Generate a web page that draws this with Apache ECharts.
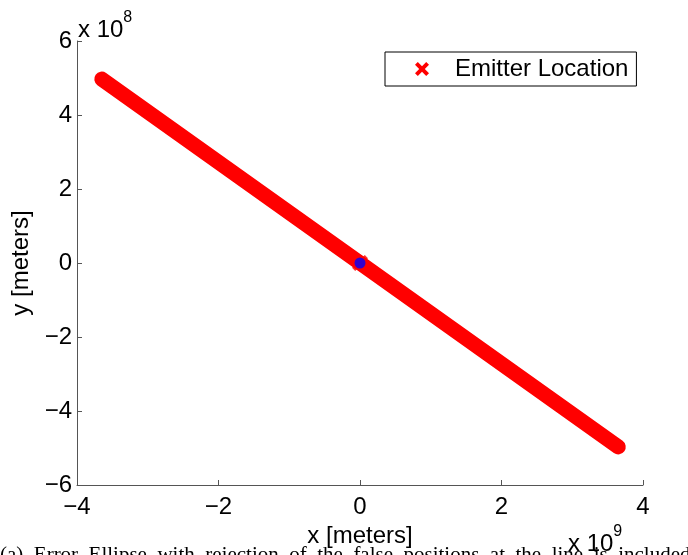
<!DOCTYPE html>
<html>
<head>
<meta charset="utf-8">
<script src="https://cdn.jsdelivr.net/npm/echarts@6/dist/echarts.min.js"></script>
<style>
  html, body { margin: 0; padding: 0; background: #fff; }
  #main { width: 688px; height: 555px; }
</style>
</head>
<body>
<div id="main"></div>
<script>
// emitter line (meters), end points of the band of estimates
var lineX = [-3.65e9, 3.65e9];
var lineY = [4.97e8, -4.97e8];
// true emitter position
var centerX = [0];
var centerY = [0];
var xTicks = [-4, -2, 0, 2, 4];
var yTicks = [-6, -4, -2, 0, 2, 4, 6];

var crossPath = 'path://M2,0 L5,3 L8,0 L10,2 L7,5 L10,8 L8,10 L5,7 L2,10 L0,8 L3,5 L0,2 Z';
var font = 'Liberation Sans, Arial, Helvetica, sans-serif';

function minus(v) {
    return (v < 0 ? '\u2212' : '') + Math.abs(v);
}

var myChart = echarts.init(document.getElementById('main'));

myChart.setOption({
    backgroundColor: '#fff',
    animation: false,
    grid: { left: 77, right: 45, top: 41, bottom: 70 },
    legend: {
        data: ['Emitter Location'],
        left: 385,
        top: 52,
        orient: 'vertical',
        borderColor: '#000',
        borderWidth: 1,
        padding: [5, 8, 5, 30],
        itemWidth: 14,
        itemHeight: 14,
        icon: crossPath,
        textStyle: { fontFamily: font, fontSize: 24, color: '#000', padding: [0, 0, 0, 21] }
    },
    xAxis: {
        type: 'value',
        min: -4e9, max: 4e9, interval: 2e9,
        name: 'x [meters]',
        nameLocation: 'middle',
        nameGap: 29,
        nameTextStyle: { fontFamily: font, fontSize: 24, color: '#000' },
        axisLine: { onZero: false, lineStyle: { color: '#555', width: 1 } },
        axisTick: { inside: true, length: 5, lineStyle: { color: '#555' } },
        axisLabel: {
            margin: 10, fontFamily: font, fontSize: 24, color: '#000',
            formatter: function (v) { return minus(Math.round(v / 1e9)); }
        },
        splitLine: { show: false }
    },
    yAxis: {
        type: 'value',
        min: -6e8, max: 6e8, interval: 2e8,
        name: 'y [meters]',
        nameLocation: 'middle',
        nameGap: 44,
        nameTextStyle: { fontFamily: font, fontSize: 24, color: '#000' },
        axisLine: { onZero: false, lineStyle: { color: '#555', width: 1 } },
        axisTick: { inside: true, length: 5, lineStyle: { color: '#555' } },
        axisLabel: {
            margin: 5, fontFamily: font, fontSize: 24, color: '#000',
            formatter: function (v) { return minus(Math.round(v / 1e8)); }
        },
        splitLine: { show: false }
    },
    series: [
        {
            name: 'Emitter Location',
            type: 'line',
            data: lineX.map(function (x, i) { return [x, lineY[i]]; }),
            showSymbol: false,
            symbol: crossPath,
            color: '#ff0000',
            lineStyle: { color: '#ff0000', width: 15, cap: 'round' }
        },
        {
            name: 'center-cross',
            type: 'scatter',
            data: centerX.map(function (x, i) { return [x, centerY[i]]; }),
            symbol: crossPath,
            symbolSize: 16,
            itemStyle: { color: '#ff0000' },
            z: 3
        },
        {
            name: 'center',
            type: 'scatter',
            data: centerX.map(function (x, i) { return [x, centerY[i]]; }),
            symbol: 'circle',
            symbolSize: 11,
            itemStyle: { color: '#0000ff' },
            z: 4
        }
    ],
    graphic: [
        {
            type: 'text', left: 78, top: 10,
            style: {
                text: '{b|x 10}{s|8}',
                rich: {
                    b: { fontFamily: font, fontSize: 24, fill: '#000', verticalAlign: 'bottom' },
                    s: { fontFamily: font, fontSize: 16, fill: '#000', verticalAlign: 'top', padding: [0, 0, 16, 0] }
                }
            }
        },
        {
            type: 'text', left: 568, top: 524,
            style: {
                text: '{b|x 10}{s|9}',
                rich: {
                    b: { fontFamily: font, fontSize: 24, fill: '#000', verticalAlign: 'bottom' },
                    s: { fontFamily: font, fontSize: 16, fill: '#000', verticalAlign: 'top', padding: [0, 0, 16, 0] }
                }
            }
        },
        {
            type: 'text', left: 0, top: 545,
            style: {
                text: '(a)  Error  Ellipse  with  rejection  of  the  false  positions  at  the  line  is  included',
                fontFamily: 'Liberation Serif, Times New Roman, serif',
                fontSize: 21,
                fill: '#000'
            }
        }
    ]
});
</script>
</body>
</html>
